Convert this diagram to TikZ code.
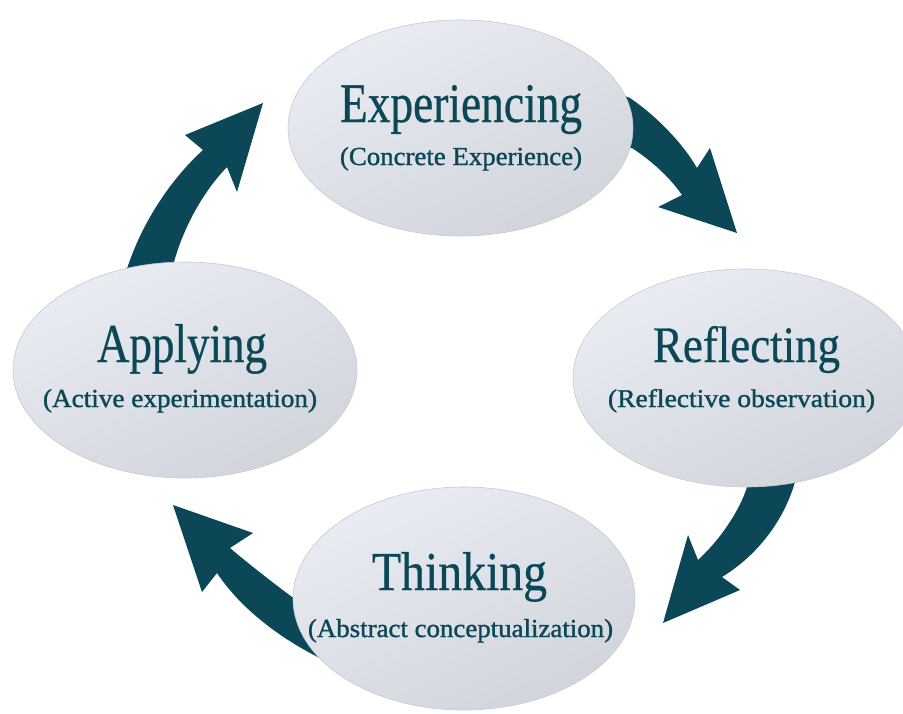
\documentclass[tikz,border=0pt]{standalone}
\usepackage{fontspec}
\setmainfont{Liberation Serif}
\newfontfamily\titlefont[FakeBold=0.6]{Liberation Serif}
\newfontfamily\subfont[FakeBold=1.2]{Liberation Serif}
\usepackage{graphicx}
\usetikzlibrary{shapes.geometric}
\definecolor{deepteal}{HTML}{0B4757}
\definecolor{ovtop}{HTML}{E9ECF2}
\definecolor{ovbot}{HTML}{D1D4DB}
\definecolor{ovrim}{HTML}{C6C9D0}
\newcommand{\fitlabel}[3]{\resizebox{#1pt}{#2pt}{#3}}
\begin{document}
\begin{tikzpicture}[x=1pt,y=-1pt,
  oval/.style={ellipse, inner sep=0pt, draw=ovrim, line width=0.6pt,
    shading=axis, top color=ovtop, bottom color=ovbot, shading angle=25},
  titletext/.style={anchor=base, text=deepteal, inner sep=0pt, font=\titlefont},
  subtext/.style={anchor=base, text=deepteal, inner sep=0pt, font=\subfont},
  cyclearrow/.style={fill=deepteal}]
\useasboundingbox (0,0) rectangle (903,713);
% curved arrows (tails hidden behind the ovals)
\fill[cyclearrow] (600,86) -- (630,98) .. controls (655,115) and (682,142) .. (697,168)
  -- (710,148) -- (737,233) -- (658,207) -- (682,195)
  .. controls (668,175) and (650,160) .. (632,148) -- (600,152) -- cycle;
\fill[cyclearrow] (800,455) -- (795,482) .. controls (784,520) and (758,555) .. (722,577)
  -- (740,590) -- (663,623) -- (688,535) -- (698,560)
  .. controls (720,540) and (740,510) .. (747,487) -- (750,455) -- cycle;
\fill[cyclearrow] (335,595) -- (292,597) .. controls (272,582) and (250,565) .. (230,548)
  -- (253,533) -- (173,505) -- (202,592) -- (217,573)
  .. controls (235,600) and (270,635) .. (330,663) -- (345,650) -- cycle;
\fill[cyclearrow] (125,275) .. controls (140,225) and (170,180) .. (203,150)
  -- (185,135) -- (263,103) -- (237,192) -- (227,167)
  .. controls (200,195) and (180,235) .. (172,270) -- (168,295) -- (120,295) -- cycle;
% ovals
\node[oval, minimum width=345pt, minimum height=216pt] (E) at (460.5,128) {};
\node[oval, minimum width=344pt, minimum height=216pt] (A) at (185,370) {};
\node[oval, minimum width=346pt, minimum height=218pt] (R) at (746,378) {};
\node[oval, minimum width=342pt, minimum height=223pt] (T) at (464,598.5) {};
% labels
\node[titletext] (Et) at (461,122) {\fitlabel{242}{37}{Experiencing}};
\node[subtext] (Es) at (461,165) {\fitlabel{242}{18}{(Concrete Experience)}};
\node[titletext] (At) at (182,362) {\fitlabel{170}{38}{Applying}};
\node[subtext] (As) at (180,407) {\fitlabel{274}{18}{(Active experimentation)}};
\node[titletext] (Rt) at (746.5,362) {\fitlabel{187}{36}{Reflecting}};
\node[subtext] (Rs) at (741.5,407) {\fitlabel{267}{18}{(Reflective observation)}};
\node[titletext] (Tt) at (459.5,590) {\fitlabel{175}{38}{Thinking}};
\node[subtext] (Ts) at (460.5,637) {\fitlabel{305}{18}{(Abstract conceptualization)}};
\end{tikzpicture}
\end{document}
